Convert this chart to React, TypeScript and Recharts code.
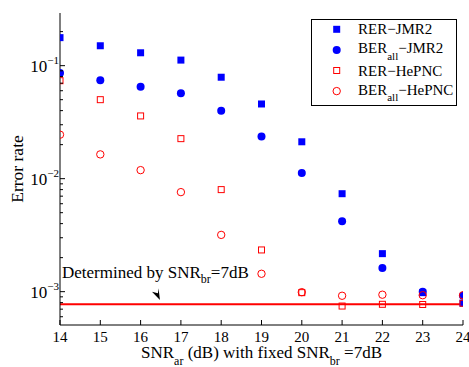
import React from 'react';
import { ScatterChart, Scatter, XAxis, YAxis, ReferenceLine, ReferenceDot, Legend, Label } from 'recharts';

const FONT = '"Liberation Serif", "Times New Roman", serif';
const BLUE = '#0000ff';
const RED = '#ff0000';

const snr = [14, 15, 16, 17, 18, 19, 20, 21, 22, 23, 24];
const rerJmr2 = [0.177, 0.150, 0.130, 0.112, 0.079, 0.0458, 0.0212, 0.00736, 0.00217, 0.00098, 0.00079];
const berJmr2 = [0.0862, 0.0743, 0.0652, 0.0570, 0.0400, 0.0236, 0.0112, 0.0042, 0.00162, 0.00100, 0.00092];
const rerHepnc = [0.0736, 0.050, 0.0359, 0.0226, 0.0080, 0.00234, 0.00098, 0.000746, 0.000773, 0.00077, 0.00079];
const berHepnc = [0.0245, 0.0164, 0.0119, 0.0076, 0.00318, 0.00144, 0.00099, 0.00092, 0.00094, 0.00093, 0.00093];
const threshold = 0.000773;
const xTicks = [14, 15, 16, 17, 18, 19, 20, 21, 22, 23, 24];
const yTicks = [
  0.0006, 0.0007, 0.0008, 0.0009,
  0.001, 0.002, 0.003, 0.004, 0.005, 0.006, 0.007, 0.008, 0.009,
  0.01, 0.02, 0.03, 0.04, 0.05, 0.06, 0.07, 0.08, 0.09,
  0.1, 0.2,
];
const yDomain = [0.000507, 0.2924];
const arrowAt = { x: 16.5, y: 0.000845 };
const noteAt = { x: 14, y: 0.00132 };

const toPoints = (ys: number[]) => snr.map((x, i) => ({ x, y: ys[i] }));

const isMajor = (v: number) => {
  const l = Math.log10(v);
  return Math.abs(l - Math.round(l)) < 1e-6;
};

const LeftTick = (props: any) => {
  const { x, y, payload } = props;
  const v = payload.value;
  const major = isMajor(v);
  const e = Math.round(Math.log10(v));
  return (
    <g>
      <line x1={x} x2={x + (major ? 5 : 3)} y1={y} y2={y} stroke="#000" strokeWidth={1} />
      {major && (
        <text x={x - 1} y={y + 6} textAnchor="end" fontFamily={FONT} fontSize={17} fill="#000">
          10<tspan dy={-8} fontSize={11}>{'\u2212' + Math.abs(e)}</tspan>
        </text>
      )}
    </g>
  );
};

const RightTick = (props: any) => {
  const { x, y, payload } = props;
  const major = isMajor(payload.value);
  return <line x1={x} x2={x - (major ? 5 : 3)} y1={y} y2={y} stroke="#000" strokeWidth={1} />;
};

const BottomTick = (props: any) => {
  const { x, y, payload } = props;
  return (
    <g>
      <line x1={x} x2={x} y1={y} y2={y - 5} stroke="#000" strokeWidth={1} />
      <text x={x} y={y + 17} textAnchor="middle" fontFamily={FONT} fontSize={15} fill="#000">
        {payload.value}
      </text>
    </g>
  );
};

const TopTick = (props: any) => {
  const { x, y } = props;
  return <line x1={x} x2={x} y1={y} y2={y + 5} stroke="#000" strokeWidth={1} />;
};

const BlueSquare = (p: any) => <rect x={p.cx - 3.5} y={p.cy - 3.5} width={7} height={7} fill={BLUE} />;
const BlueCircle = (p: any) => <circle cx={p.cx} cy={p.cy} r={4} fill={BLUE} />;
const RedSquare = (p: any) => (
  <rect x={p.cx - 3} y={p.cy - 3} width={6} height={6} fill="none" stroke={RED} strokeWidth={1} />
);
const RedCircle = (p: any) => <circle cx={p.cx} cy={p.cy} r={3.7} fill="none" stroke={RED} strokeWidth={1} />;

const ArrowHead = (p: any) => {
  const { cx, cy } = p;
  const pts = [
    [cx - 0.8, cy],
    [cx - 8.8, cy - 8.3],
    [cx - 2.8, cy - 6.7],
    [cx - 2.2, cy - 11.7],
  ]
    .map((q) => q.join(','))
    .join(' ');
  return <polygon points={pts} fill="#000" />;
};

const NoteText = (p: any) => {
  const { cx, cy } = p;
  return (
    <text x={cx + 2} y={cy} fontFamily={FONT} fontSize={17} fill="#000">
      Determined by SNR<tspan dy={5} fontSize={12}>br</tspan>
      <tspan dy={-5}>=7dB</tspan>
    </text>
  );
};

const XLabel = (props: any) => {
  const vb = props.viewBox || { x: 60, y: 325, width: 403, height: 30 };
  const cx = vb.x + vb.width / 2;
  return (
    <text x={cx} y={358} textAnchor="middle" fontFamily={FONT} fontSize={17} fill="#000">
      SNR<tspan dy={7} fontSize={12}>ar</tspan>
      <tspan dy={-7}> (dB) with fixed SNR</tspan>
      <tspan dy={7} fontSize={12}>br</tspan>
      <tspan dy={-7}> =7dB</tspan>
    </text>
  );
};

const YLabel = (props: any) => {
  const vb = props.viewBox || { x: 0, y: 13, width: 60, height: 312 };
  const cy = vb.y + vb.height / 2;
  const x = 23;
  return (
    <text
      x={x}
      y={cy}
      transform={`rotate(-90, ${x}, ${cy})`}
      textAnchor="middle"
      fontFamily={FONT}
      fontSize={17.5}
      fill="#000"
    >
      Error rate
    </text>
  );
};

const legendItems = [
  { name: 'RER\u2212JMR2', sub: '', pre: '', marker: 'bs' },
  { name: '\u2212JMR2', sub: 'all', pre: 'BER', marker: 'bc' },
  { name: 'RER\u2212HePNC', sub: '', pre: '', marker: 'rs' },
  { name: '\u2212HePNC', sub: 'all', pre: 'BER', marker: 'rc' },
];

const LegendBox = () => (
  <svg width={146} height={87} style={{ display: 'block' }}>
    <rect x={0.5} y={0.5} width={145} height={86} fill="#fff" stroke="#000" strokeWidth={1} />
    {legendItems.map((it, i) => {
      const cy = 10.3 + 20.6 * i;
      const cx = 25.7;
      let m: any = null;
      if (it.marker === 'bs') m = <BlueSquare cx={cx} cy={cy} />;
      if (it.marker === 'bc') m = <BlueCircle cx={cx} cy={cy} />;
      if (it.marker === 'rs') m = <RedSquare cx={cx} cy={cy} />;
      if (it.marker === 'rc') m = <RedCircle cx={cx} cy={cy} />;
      return (
        <g key={i}>
          {m}
          {it.sub ? (
            <text x={47} y={cy + 3.5} fontFamily={FONT} fontSize={15} fill="#000">
              {it.pre}
              <tspan dy={6.5} fontSize={11}>{it.sub}</tspan>
              <tspan dy={-6.5}>{it.name}</tspan>
            </text>
          ) : (
            <text x={47} y={cy + 5} fontFamily={FONT} fontSize={15} fill="#000">
              {it.name}
            </text>
          )}
        </g>
      );
    })}
  </svg>
);

export default function App() {
  return (
    <div style={{ position: 'absolute', left: 0, top: 0, width: 469, height: 367, background: '#fff' }}>
      <ScatterChart width={469} height={367} margin={{ top: 13, right: 6, bottom: 12, left: 0 }}>
        <XAxis
          xAxisId="b"
          type="number"
          dataKey="x"
          domain={[14, 24]}
          ticks={xTicks}
          interval={0}
          height={30}
          tickSize={0}
          tickMargin={0}
          tickLine={false}
          tick={<BottomTick />}
          axisLine={{ stroke: '#000', strokeWidth: 1 }}
          allowDataOverflow
        >
          <Label content={<XLabel />} />
        </XAxis>
        <XAxis
          xAxisId="t"
          orientation="top"
          type="number"
          dataKey="x"
          domain={[14, 24]}
          ticks={xTicks}
          interval={0}
          height={0}
          tickSize={0}
          tickMargin={0}
          tickLine={false}
          tick={<TopTick />}
          axisLine={{ stroke: '#000', strokeWidth: 1 }}
          allowDataOverflow
        />
        <YAxis
          yAxisId="l"
          type="number"
          dataKey="y"
          scale="log"
          domain={yDomain}
          ticks={yTicks}
          interval={0}
          width={60}
          tickSize={0}
          tickMargin={0}
          tickLine={false}
          tick={<LeftTick />}
          axisLine={{ stroke: '#000', strokeWidth: 1 }}
          allowDataOverflow
        >
          <Label content={<YLabel />} />
        </YAxis>
        <YAxis
          yAxisId="r"
          orientation="right"
          type="number"
          dataKey="y"
          scale="log"
          domain={yDomain}
          ticks={yTicks}
          interval={0}
          width={0}
          tickSize={0}
          tickMargin={0}
          tickLine={false}
          tick={<RightTick />}
          axisLine={{ stroke: '#000', strokeWidth: 1 }}
          allowDataOverflow
        />
        <ReferenceLine xAxisId="b" yAxisId="l" y={threshold} stroke={RED} strokeWidth={2} />
        <Scatter xAxisId="b" yAxisId="l" name="RER-JMR2" data={toPoints(rerJmr2)} shape={<BlueSquare />} isAnimationActive={false} />
        <Scatter xAxisId="b" yAxisId="l" name="BER-JMR2" data={toPoints(berJmr2)} shape={<BlueCircle />} isAnimationActive={false} />
        <Scatter xAxisId="b" yAxisId="l" name="RER-HePNC" data={toPoints(rerHepnc)} shape={<RedSquare />} isAnimationActive={false} />
        <Scatter xAxisId="b" yAxisId="l" name="BER-HePNC" data={toPoints(berHepnc)} shape={<RedCircle />} isAnimationActive={false} />
        <ReferenceDot xAxisId="b" yAxisId="l" x={arrowAt.x} y={arrowAt.y} shape={<ArrowHead />} />
        <ReferenceDot xAxisId="b" yAxisId="l" x={noteAt.x} y={noteAt.y} shape={<NoteText />} />
        <Legend
          content={<LegendBox />}
          layout="horizontal"
          verticalAlign="middle"
          align="center"
          wrapperStyle={{ position: 'absolute', left: 311, top: 19, width: 146, height: 87 }}
        />
      </ScatterChart>
    </div>
  );
}
